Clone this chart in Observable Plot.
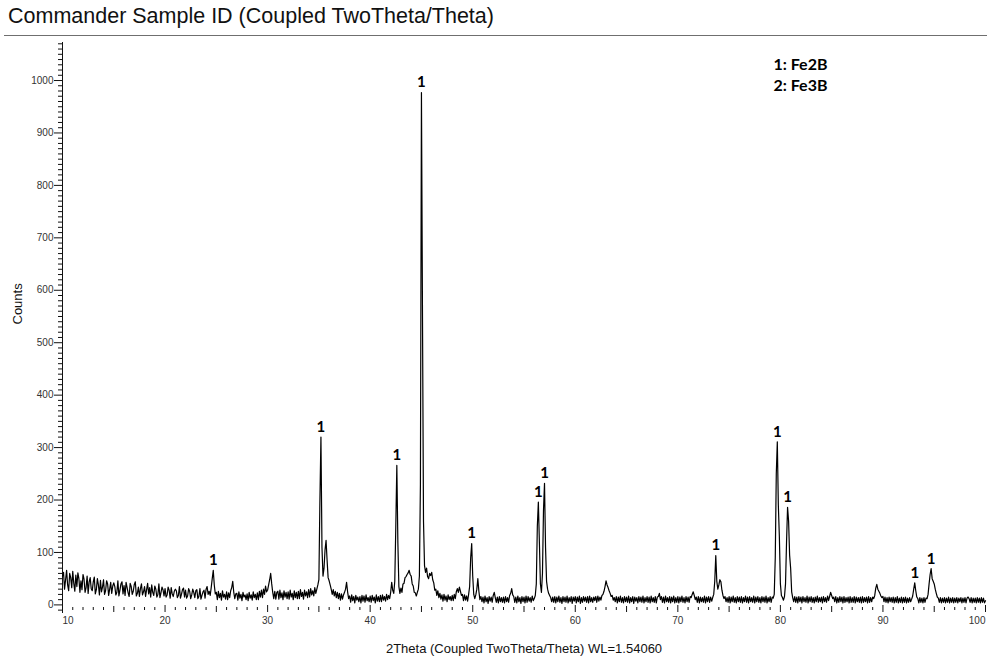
<!DOCTYPE html>
<html>
<head>
<meta charset="utf-8">
<script src="https://cdn.jsdelivr.net/npm/d3@7"></script>
<script src="https://cdn.jsdelivr.net/npm/@observablehq/plot@0.6"></script>
<style>
  html, body { margin: 0; padding: 0; background: #fff; }
  body { width: 987px; height: 666px; overflow: hidden; font-family: "Liberation Sans", Arial, sans-serif; }
  #head { position: relative; width: 987px; height: 40px; }
  #title { position: absolute; left: 8px; top: 4px; font-size: 21.5px; color: #111; white-space: nowrap; }
  #rule { position: absolute; left: 4px; right: 0; top: 35px; height: 0; border-top: 1.5px solid #6f6f6f; }
  #chart svg { display: block; }
</style>
</head>
<body>
<div id="head">
  <div id="title">Commander Sample ID (Coupled TwoTheta/Theta)</div>
  <div id="rule"></div>
</div>
<div id="chart"></div>
<script>
// Scan settings: 2θ from 10° to 100° in 0.1° steps
const scanStart = 10;
const scanStep = 0.1;

// Measured counts, one array per 10° of 2θ (10 readings per degree)
const scan10 = [
  55, 62, 30, 48, 66, 38, 27, 60, 52, 33,
  64, 41, 26, 57, 35, 61, 50, 24, 46, 29,
  58, 49, 24, 33, 55, 22, 44, 52, 31, 27,
  44, 53, 21, 29, 50, 38, 19, 47, 25, 34,
  48, 20, 27, 46, 40, 18, 30, 43, 22, 36,
  42, 35, 19, 24, 46, 17, 28, 40, 44, 21,
  37, 18, 43, 33, 23, 16, 41, 35, 20, 26,
  39, 44, 17, 22, 34, 16, 31, 40, 19, 25,
  35, 16, 29, 41, 21, 33, 15, 38, 24, 18,
  36, 30, 15, 20, 40, 14, 23, 34, 29, 17
];
const scan20 = [
  31, 15, 19, 34, 28, 13, 33, 21, 16, 26,
  30, 27, 14, 18, 35, 13, 20, 29, 32, 15,
  28, 13, 17, 31, 26, 12, 19, 30, 24, 14,
  27, 29, 12, 16, 31, 11, 18, 25, 28, 13,
  30, 35, 20, 26, 18, 33, 50, 66, 38, 21,
  24, 10, 26, 14, 22, 9, 27, 15, 20, 11,
  25, 10, 23, 14, 27, 33, 45, 24, 12, 21,
  22, 9, 25, 13, 20, 8, 24, 15, 19, 10,
  21, 8, 24, 13, 19, 9, 25, 14, 20, 10,
  23, 10, 26, 15, 28, 14, 30, 20, 36, 25
];
const scan30 = [
  28, 38, 48, 60, 40, 24, 12, 26, 11, 24,
  26, 11, 28, 14, 23, 10, 27, 15, 24, 12,
  25, 11, 28, 15, 22, 10, 27, 14, 24, 12,
  26, 12, 29, 16, 24, 11, 28, 17, 25, 14,
  29, 15, 31, 19, 27, 17, 33, 22, 30, 38,
  48, 200, 320, 110, 55, 70, 105, 123, 85, 52,
  46, 38, 30, 20, 29, 17, 26, 14, 24, 12,
  22, 9, 21, 11, 19, 24, 30, 43, 25, 12,
  17, 5, 19, 8, 16, 4, 18, 9, 15, 6,
  16, 4, 18, 7, 17, 5, 19, 8, 14, 6
];
const scan40 = [
  17, 5, 18, 8, 15, 4, 19, 7, 16, 6,
  18, 6, 19, 9, 16, 7, 20, 10, 18, 12,
  24, 43, 28, 22, 45, 150, 266, 120, 35, 22,
  32, 24, 40, 41, 52, 54, 58, 61, 66, 58,
  55, 40, 36, 24, 23, 17, 24, 30, 55, 230,
  977, 560, 160, 75, 62, 70, 54, 50, 60, 56,
  62, 48, 42, 28, 30, 18, 27, 14, 22, 11,
  19, 7, 20, 9, 17, 6, 19, 10, 16, 8,
  18, 8, 20, 12, 25, 31, 24, 34, 26, 18,
  20, 8, 19, 9, 17, 7, 20, 35, 90, 117
];
const scan50 = [
  55, 20, 12, 19, 30, 50, 26, 10, 16, 6,
  15, 4, 17, 6, 14, 3, 16, 7, 15, 5,
  18, 24, 14, 5, 15, 4, 16, 6, 14, 5,
  15, 4, 16, 6, 14, 5, 18, 22, 31, 19,
  16, 5, 15, 4, 17, 6, 14, 3, 16, 6,
  15, 4, 17, 5, 16, 7, 14, 5, 17, 8,
  12, 18, 40, 150, 196, 120, 40, 24, 60, 180,
  232, 110, 45, 30, 22, 18, 14, 6, 15, 5,
  16, 4, 15, 6, 17, 5, 14, 3, 16, 6,
  15, 5, 17, 4, 14, 6, 16, 3, 15, 7
];
const scan60 = [
  16, 4, 15, 6, 17, 3, 14, 5, 16, 7,
  15, 5, 16, 4, 17, 6, 14, 5, 15, 8,
  16, 5, 17, 7, 15, 9, 18, 20, 26, 35,
  46, 38, 33, 27, 22, 16, 18, 9, 14, 6,
  16, 4, 15, 6, 17, 5, 14, 4, 16, 6,
  15, 5, 17, 4, 14, 6, 16, 3, 15, 7,
  14, 4, 16, 6, 15, 5, 17, 4, 14, 6,
  16, 5, 15, 4, 17, 6, 14, 5, 16, 4,
  15, 16, 22, 10, 16, 5, 15, 4, 17, 6,
  14, 5, 16, 4, 15, 6, 17, 4, 14, 5
];
const scan70 = [
  16, 4, 15, 6, 17, 5, 14, 4, 16, 6,
  15, 5, 16, 14, 20, 25, 18, 10, 15, 5,
  16, 4, 15, 6, 14, 5, 17, 4, 15, 6,
  16, 5, 15, 7, 14, 20, 45, 94, 45, 30,
  38, 48, 44, 28, 18, 12, 16, 6, 14, 5,
  16, 4, 15, 6, 17, 5, 14, 4, 16, 6,
  15, 5, 16, 4, 14, 6, 17, 5, 15, 4,
  16, 6, 14, 5, 17, 4, 15, 6, 16, 5,
  14, 4, 16, 6, 15, 5, 17, 4, 14, 6,
  16, 5, 15, 13, 20, 90, 250, 311, 190, 130
];
const scan80 = [
  40, 18, 14, 9, 16, 40, 120, 186, 160, 95,
  70, 25, 14, 6, 16, 5, 15, 4, 16, 6,
  15, 4, 16, 6, 14, 5, 17, 4, 15, 6,
  16, 5, 14, 4, 15, 6, 17, 5, 14, 6,
  15, 4, 16, 6, 14, 5, 17, 8, 16, 24,
  18, 12, 15, 6, 16, 4, 14, 5, 16, 6,
  15, 4, 16, 5, 14, 6, 15, 4, 16, 5,
  14, 5, 16, 4, 15, 6, 14, 5, 15, 4,
  16, 5, 14, 6, 15, 4, 16, 5, 14, 6,
  15, 12, 18, 32, 39, 30, 26, 22, 17, 14
];
const scan90 = [
  16, 6, 15, 5, 14, 4, 15, 6, 14, 5,
  15, 4, 14, 5, 16, 4, 13, 5, 15, 4,
  14, 5, 15, 4, 13, 5, 14, 6, 11, 17,
  30, 42, 27, 15, 12, 4, 14, 5, 13, 4,
  14, 5, 13, 12, 20, 40, 58, 69, 50, 45,
  40, 30, 22, 15, 13, 5, 14, 4, 13, 5,
  14, 4, 13, 5, 15, 4, 13, 5, 14, 4,
  13, 5, 14, 4, 13, 6, 14, 4, 13, 5,
  14, 4, 13, 15, 12, 5, 14, 4, 13, 5,
  13, 4, 14, 5, 13, 4, 14, 5, 13, 4,
  8
];

// Reflections assigned to phase 1 (Fe2B), by 2θ
const fe2bPeaks = [24.7, 35.2, 42.6, 45.0, 49.9, 56.4, 57.0, 73.7, 79.7, 80.7, 93.1, 94.7];

// Phase key
const phases = ["Fe2B", "Fe3B"];

// Axis ticks
const xMajorTicks = [10, 20, 30, 40, 50, 60, 70, 80, 90, 100];
const yMajorTicks = [0, 100, 200, 300, 400, 500, 600, 700, 800, 900, 1000];

// ---- build the table ----
const counts = [scan10, scan20, scan30, scan40, scan50, scan60, scan70, scan80, scan90].flat();
const scan = counts.map((c, i) => ({theta: +(scanStart + i * scanStep).toFixed(1), counts: c}));

const peakMarks = fe2bPeaks.map((t) => {
  const d = scan.find((s) => Math.abs(s.theta - t) < 1e-6);
  return {theta: t, counts: d.counts, phase: "1"};
});

const xMidTicks = d3.range(15, 100, 10);
const xMinorTicks = d3.range(11, 100, 1).filter((t) => t % 5 !== 0);
const yMinorTicks = d3.range(-10, 1071, 10).filter((t) => t % 100 !== 0);

const tickFont = "'Liberation Sans', Arial, sans-serif";
const boldFont = "Lato, 'Liberation Sans', sans-serif";

const chart = Plot.plot({
  width: 987,
  height: 626,
  marginLeft: 62,
  marginRight: 2,
  marginTop: 2,
  marginBottom: 54,
  x: {domain: [10, 100], label: null},
  y: {domain: [-14.5, 1072.5], label: null},
  style: {fontFamily: tickFont, fontSize: "10px", color: "#222", background: "transparent", overflow: "visible"},
  marks: [
    // y axis line
    Plot.frame({anchor: "left", stroke: "#111"}),
    // y axis: major ticks with labels, minor ticks every 10 counts
    Plot.axisY(yMajorTicks, {tickSize: 8, tickPadding: 1, tickFormat: (d) => String(d), stroke: "#111", fill: "#333", label: null, fontSize: 10}),
    Plot.axisY(yMinorTicks, {tickSize: 4, stroke: "#111", fill: "none", label: null}),
    // x axis ticks, drawn just above the bottom edge
    Plot.axisX(xMajorTicks.slice(1), {tickSize: 7, dy: -7, stroke: "#111", fill: "none", label: null}),
    Plot.axisX(xMidTicks, {tickSize: 6, dy: -6, stroke: "#111", fill: "none", label: null}),
    Plot.axisX(xMinorTicks, {tickSize: 3, dy: -5, stroke: "#111", fill: "none", label: null}),
    // x tick labels
    Plot.axisX(xMajorTicks.slice(0, 1), {tickSize: 0, tickPadding: 4, textAnchor: "start", fill: "#333", label: null, fontSize: 10}),
    Plot.axisX(xMajorTicks.slice(1, -1), {tickSize: 0, tickPadding: 4, fill: "#333", label: null, fontSize: 10}),
    Plot.axisX(xMajorTicks.slice(-1), {tickSize: 0, tickPadding: 4, textAnchor: "end", fill: "#333", label: null, fontSize: 10}),
    // the diffraction pattern
    Plot.lineY(scan, {x: "theta", y: "counts", stroke: "#000", strokeWidth: 1.2}),
    // phase labels above the reflections
    Plot.text(peakMarks, {x: "theta", y: "counts", text: "phase", dy: -10, fontFamily: boldFont, fontWeight: "bold", fontSize: 15, fill: "#000"}),
    // phase key
    Plot.text([phases.map((p, i) => `${i + 1}: ${p}`).join("\n")], {
      frameAnchor: "top-left", dx: 711, dy: 12, textAnchor: "start", lineAnchor: "top",
      lineHeight: 1.35, fontFamily: boldFont, fontWeight: "bold", fontSize: 16, fill: "#000"
    }),
    // axis titles
    Plot.text(["Counts"], {frameAnchor: "left", dx: -45, dy: -3, rotate: -90, fontSize: 13, fill: "#111"}),
    Plot.text(["2Theta (Coupled TwoTheta/Theta) WL=1.54060"], {frameAnchor: "bottom", dy: 40, fontSize: 13, fill: "#111"})
  ]
});

document.getElementById("chart").appendChild(chart);
</script>
</body>
</html>
